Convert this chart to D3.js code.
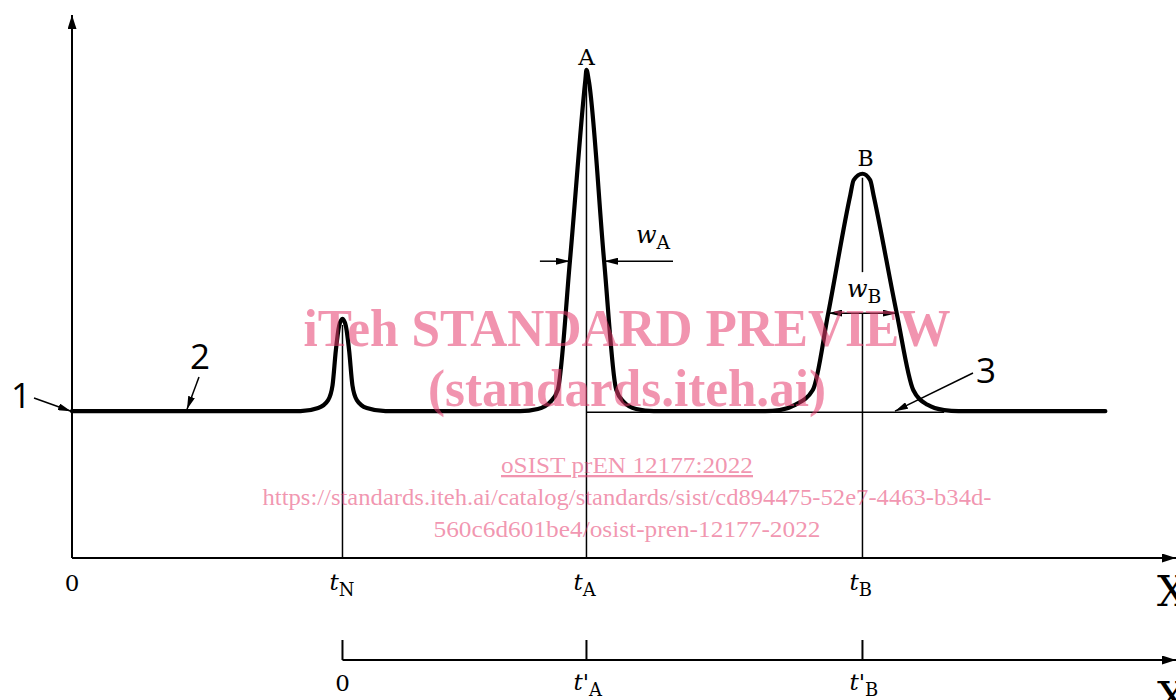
<!DOCTYPE html>
<html>
<head>
<meta charset="utf-8">
<script src="https://cdn.jsdelivr.net/npm/d3@7"></script>
<style>
  html, body { margin: 0; padding: 0; background: #fff; }
  svg { display: block; }
  .lbl { font-family: "DejaVu Serif", "Liberation Serif", serif; fill: #000; }
  .num { font-family: "Open Sans", "Liberation Sans", sans-serif; fill: #000; }
  .wm { font-family: "Liberation Serif", serif; fill: rgb(230, 60, 110); fill-opacity: 0.55; }
</style>
</head>
<body>
<main></main>
<script>
// chromatogram sketch: baseline, peaks N, A, B and two time axes

let width = 1176;
let height = 700;

// signal trace, [time, response] in chart units (0..100)
let baseline = 27.7;
let signal = [
  [0, 27.7], [20.7, 27.7], [22.3, 28.3], [23.2, 29.8], [23.6, 32.6], [23.9, 39.2],
  [24.2, 43.8], [24.5, 45.1], [24.8, 43.8], [25.1, 39.2], [25.4, 32.6], [25.8, 29.8],
  [26.7, 28.3], [28.4, 27.7],
  [40.6, 27.7], [42.2, 28.1], [43.3, 29.4], [44.0, 31.7], [45.1, 56.0], [46.5, 90.2],
  [46.6, 92.1], [46.8, 90.2], [48.2, 56.0], [49.3, 31.7], [50.0, 29.4], [51.1, 28.1],
  [52.7, 27.7],
  [62.8, 27.7], [64.1, 27.9], [65.5, 28.9], [67.1, 31.7], [68.5, 46.2], [70.5, 68.5],
  [70.8, 71.3], [71.6, 72.5], [72.3, 71.3], [72.6, 68.5], [74.7, 46.2], [76.2, 31.7],
  [77.5, 28.9], [79.0, 27.9], [80.3, 27.7],
  [93.6, 27.7]
];

// retention times
let tN = 24.5;
let tA = 46.6;
let tB = 71.6;
let peakTops = { A: 92.1, B: 72.5, N: 45.1 };

// peak widths (edges at the marked level)
let wA = { level: 56.0, left: 45.1, right: 48.2 };
let wB = { level: 46.2, left: 68.5, right: 74.7 };

let axis1Ticks = [
  { t: 0, main: '0', sub: '' },
  { t: tN, main: 't', sub: 'N' },
  { t: tA, main: 't', sub: 'A' },
  { t: tB, main: 't', sub: 'B' }
];
let axis2Ticks = [
  { t: tN, main: '0', sub: '' },
  { t: tA, main: "t'", sub: 'A' },
  { t: tB, main: "t'", sub: 'B' }
];

let watermark = [
  'iTeh STANDARD PREVIEW',
  '(standards.iteh.ai)',
  'oSIST prEN 12177:2022',
  'https://standards.iteh.ai/catalog/standards/sist/cd894475-52e7-4463-b34d-',
  '560c6d601be4/osist-pren-12177-2022'
];

let x = d3.scaleLinear().domain([0, 100]).range([72, 1176]);
let y = d3.scaleLinear().domain([0, 100]).range([558, 28]);

let svg = d3.select('main')
  .append('svg')
  .attr('width', width)
  .attr('height', height);

// arrowheads
let defs = svg.append('defs');
function marker(id, len, half) {
  defs.append('marker')
    .attr('id', id)
    .attr('viewBox', `0 ${-half} ${len} ${half * 2}`)
    .attr('refX', len)
    .attr('refY', 0)
    .attr('markerUnits', 'userSpaceOnUse')
    .attr('markerWidth', len)
    .attr('markerHeight', half * 2)
    .attr('orient', 'auto')
    .append('path')
    .attr('d', `M0,${-half}L${len},0L0,${half}Z`)
    .attr('fill', '#000');
}
marker('axisArrow', 14, 4.5);
marker('callArrow', 13, 3.5);
marker('dimArrow', 14, 3.5);

function line(x1, y1, x2, y2, w, mark) {
  let l = svg.append('line')
    .attr('x1', x1).attr('y1', y1)
    .attr('x2', x2).attr('y2', y2)
    .attr('stroke', '#000')
    .attr('stroke-width', w);
  if (mark) l.attr('marker-end', `url(#${mark})`);
  return l;
}

// axes
let y0 = y(0);
line(x(0), y0, x(0), 15, 2, 'axisArrow');
line(x(0), y0, 1176, y0, 2, 'axisArrow');

let y2 = 660;
line(x(tN), y2, 1176, y2, 2, 'axisArrow');
axis2Ticks.forEach(d => line(x(d.t), y2, x(d.t), 640, 2));

// retention time verticals
line(x(tN), y0, x(tN), y(peakTops.N) + 6, 1.5);
line(x(tA), y0, x(tA), y(peakTops.A) + 6, 1.5);
line(x(tB), y0, x(tB), y(wB.level), 1.5);
line(x(tB), y(wB.level) - 41, x(tB), y(peakTops.B) + 4, 1.5);

// baseline tangent under peak B
line(x(tA), y(baseline) + 1, x(79.0), y(baseline) + 1, 1.5);

// signal
let path = d3.line()
  .x(d => x(d[0]))
  .y(d => y(d[1]))
  .curve(d3.curveMonotoneX);

svg.append('path')
  .datum(signal)
  .attr('d', path)
  .attr('fill', 'none')
  .attr('stroke', '#000')
  .attr('stroke-width', 4.2)
  .attr('stroke-linejoin', 'round')
  .attr('stroke-linecap', 'round');

// width w_A: arrows pointing in
let ya = y(wA.level);
line(x(wA.left) - 30, ya, x(wA.left), ya, 1.5, 'dimArrow');
line(673, ya, x(wA.right), ya, 1.5, 'dimArrow');

// width w_B: arrows pointing out
let yb = y(wB.level);
line(x(tB), yb, x(wB.left), yb, 1.5, 'dimArrow');
line(x(tB), yb, x(wB.right), yb, 1.5, 'dimArrow');

function subText(px, py, main, sub, size, italic) {
  let t = svg.append('text')
    .attr('class', 'lbl')
    .attr('x', px)
    .attr('y', py)
    .attr('font-size', size);
  t.append('tspan')
    .attr('font-style', italic ? 'italic' : 'normal')
    .text(main);
  if (sub) {
    t.append('tspan')
      .attr('font-size', size * 0.78)
      .attr('dy', size * 0.25)
      .text(sub);
  }
  return t;
}

subText(636, 243, 'w', 'A', 24, true);
subText(847, 297, 'w', 'B', 24, true);

svg.append('text').attr('class', 'lbl')
  .attr('x', x(tA)).attr('y', 65)
  .attr('text-anchor', 'middle').attr('font-size', 23)
  .text('A');
svg.append('text').attr('class', 'lbl')
  .attr('x', x(tB) + 3).attr('y', 166)
  .attr('text-anchor', 'middle').attr('font-size', 22)
  .text('B');

// tick labels
axis1Ticks.forEach(d => {
  if (d.sub) subText(x(d.t) - 13, 590, d.main, d.sub, 23, true);
  else svg.append('text').attr('class', 'lbl')
    .attr('x', x(d.t)).attr('y', 591)
    .attr('text-anchor', 'middle').attr('font-size', 23)
    .text(d.main);
});
axis2Ticks.forEach(d => {
  if (d.sub) subText(x(d.t) - 13, 690, d.main, d.sub, 23, true);
  else svg.append('text').attr('class', 'lbl')
    .attr('x', x(d.t)).attr('y', 691)
    .attr('text-anchor', 'middle').attr('font-size', 23)
    .text(d.main);
});

svg.append('text').attr('class', 'lbl')
  .attr('x', 1157).attr('y', 606).attr('font-size', 42).text('X');
svg.append('text').attr('class', 'lbl')
  .attr('x', 1157).attr('y', 712).attr('font-size', 42).text('X');

// callouts
let callouts = [
  { n: '1', tx: 11, ty: 408, from: [34, 398], to: [x(0) - 1, y(baseline)] },
  { n: '2', tx: 190, ty: 369, from: [199, 377], to: [187, y(baseline) - 2] },
  { n: '3', tx: 976, ty: 383, from: [973, 373], to: [895, y(baseline)] }
];
callouts.forEach(c => {
  svg.append('text').attr('class', 'num')
    .attr('x', c.tx).attr('y', c.ty).attr('font-size', 35)
    .text(c.n);
  line(c.from[0], c.from[1], c.to[0], c.to[1], 1.5, 'callArrow');
});

// watermark on top
let wmStyle = [
  { y: 346, size: 52, bold: true, len: 647 },
  { y: 406, size: 52, bold: true, len: 398 },
  { y: 473, size: 23, bold: false, len: 252 },
  { y: 505, size: 23, bold: false, len: 729 },
  { y: 537, size: 23, bold: false, len: 387 }
];
watermark.forEach((s, i) => {
  let st = wmStyle[i];
  svg.append('text').attr('class', 'wm')
    .attr('x', 627).attr('y', st.y)
    .attr('text-anchor', 'middle')
    .attr('font-size', st.size)
    .attr('font-weight', st.bold ? 'bold' : 'normal')
    .attr('textLength', st.len)
    .attr('lengthAdjust', 'spacingAndGlyphs')
    .attr('text-decoration', i === 2 ? 'underline' : null)
    .text(s);
});
</script>
</body>
</html>
